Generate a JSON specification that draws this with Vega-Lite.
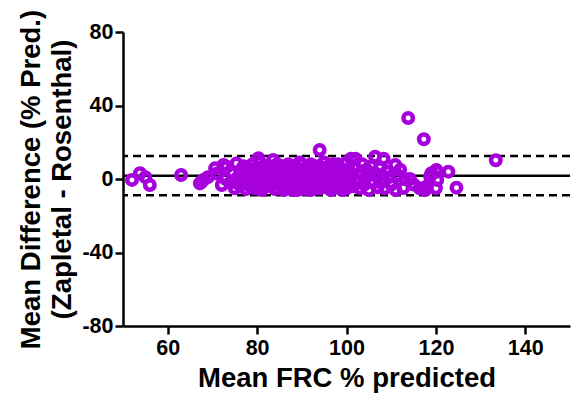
{
  "$schema": "https://vega.github.io/schema/vega-lite/v6.json",
  "width": 447,
  "height": 294,
  "autosize": "none",
  "padding": {"left": 123, "top": 32, "right": 3, "bottom": 78},
  "config": {
    "view": {"stroke": null},
    "font": "Liberation Sans",
    "axis": {
      "domainColor": "black", "domainWidth": 2.5, "tickColor": "black", "tickWidth": 2.5,
      "tickSize": 8, "grid": false, "labelFont": "Liberation Sans", "labelFontWeight": "bold",
      "labelFontSize": 21.5, "labelColor": "black", "titleFont": "Liberation Sans",
      "titleFontWeight": "bold", "titleFontSize": 27.5, "titleColor": "black"
    }
  },
  "datasets": {
    "pts": [
      {"m":52,"d":-0.5},{"m":53.8,"d":3.1},{"m":55,"d":1},{"m":56,"d":-3.3},{"m":63,"d":2.2},
      {"m":67.2,"d":-2.4},{"m":67.6,"d":-1.5},{"m":68,"d":-0.5},{"m":69,"d":1},{"m":70.6,"d":5.8},
      {"m":71,"d":3},{"m":72.1,"d":-3.3},{"m":72.5,"d":7.6},{"m":73,"d":0},{"m":73.2,"d":6.7},
      {"m":74,"d":-2},{"m":74.5,"d":3},{"m":75,"d":-5},{"m":75.4,"d":8.5},{"m":75.8,"d":1},
      {"m":76,"d":-3},{"m":76.5,"d":5},{"m":77,"d":-1},{"m":77,"d":7},{"m":77.5,"d":-5.5},
      {"m":78,"d":2},{"m":78,"d":-3},{"m":78.5,"d":4},{"m":79,"d":-1},{"m":79,"d":8},
      {"m":79.5,"d":-5},{"m":80,"d":1},{"m":80,"d":5},{"m":80.3,"d":11.3},{"m":80.6,"d":9},
      {"m":80.8,"d":-2},{"m":81,"d":-6},{"m":81.5,"d":3},{"m":82,"d":7},{"m":82,"d":-4},
      {"m":82.5,"d":0},{"m":83,"d":5},{"m":83.6,"d":10.3},{"m":83,"d":-2},{"m":84,"d":2},
      {"m":84,"d":-5.5},{"m":84.5,"d":8},{"m":85,"d":-1},{"m":85,"d":4},{"m":85.5,"d":6},
      {"m":85.5,"d":-4},{"m":86,"d":1},{"m":86,"d":-6},{"m":86.5,"d":3},{"m":87,"d":8},
      {"m":87,"d":-2},{"m":87.5,"d":5},{"m":88,"d":0},{"m":88,"d":-4.5},{"m":88.5,"d":7},
      {"m":89,"d":2},{"m":89,"d":-3},{"m":89.5,"d":9},{"m":90,"d":-1},{"m":90,"d":4},
      {"m":90.5,"d":-5.5},{"m":91,"d":6},{"m":91,"d":1},{"m":91.5,"d":-3},{"m":92,"d":3},
      {"m":92,"d":8},{"m":92.5,"d":-1},{"m":93,"d":5},{"m":93,"d":-5},{"m":93.5,"d":1},
      {"m":94,"d":15.8},{"m":94,"d":7},{"m":94.5,"d":-2},{"m":95,"d":3},{"m":95,"d":9},
      {"m":95.5,"d":-4.5},{"m":96,"d":0},{"m":96,"d":5},{"m":96.5,"d":-6},{"m":97,"d":2},
      {"m":97,"d":8},{"m":97.5,"d":-2},{"m":98,"d":4},{"m":98,"d":-4},{"m":98.5,"d":6},
      {"m":99,"d":0},{"m":99,"d":-6},{"m":99.5,"d":3},{"m":100,"d":9},{"m":100,"d":-2},
      {"m":100.5,"d":5},{"m":101,"d":11},{"m":101,"d":1},{"m":101.5,"d":-4},{"m":102,"d":11},
      {"m":102,"d":6},{"m":102.5,"d":-1},{"m":103,"d":3},{"m":103,"d":-5},{"m":103.5,"d":8},
      {"m":104,"d":0},{"m":104,"d":-3},{"m":104.5,"d":5},{"m":105,"d":-6},{"m":105,"d":2},
      {"m":105.5,"d":7},{"m":106,"d":-2},{"m":106.4,"d":12.1},{"m":106.5,"d":3},{"m":107,"d":-4.5},
      {"m":107,"d":1},{"m":107.5,"d":6},{"m":108.3,"d":11},{"m":108,"d":-1},{"m":108.5,"d":-5},
      {"m":109,"d":4},{"m":109.5,"d":1},{"m":110,"d":-3},{"m":110.9,"d":7.6},{"m":111,"d":-6},
      {"m":111.5,"d":2},{"m":112,"d":5},{"m":112.7,"d":-4.9},{"m":113,"d":0},{"m":114.2,"d":0},
      {"m":113.8,"d":33.2},{"m":115,"d":-3},{"m":116.4,"d":-5},{"m":117.3,"d":21.6},{"m":117.6,"d":-6},
      {"m":118,"d":-4},{"m":118.7,"d":1.3},{"m":119,"d":3.1},{"m":120,"d":-5},{"m":120.1,"d":4.9},
      {"m":120.3,"d":-0.5},{"m":120.2,"d":4},{"m":122.8,"d":4},{"m":124.6,"d":-4.7},{"m":133.4,"d":10.2},
      {"m":76,"d":2},{"m":78,"d":6},{"m":79,"d":-4},{"m":81,"d":5},{"m":82,"d":-1},
      {"m":83,"d":1},{"m":84,"d":-3},{"m":85,"d":2},{"m":86,"d":7},{"m":87,"d":-5},
      {"m":88,"d":3},{"m":89,"d":6},{"m":90,"d":-3},{"m":90,"d":8},{"m":91,"d":-5},
      {"m":92,"d":0},{"m":93,"d":-3},{"m":94,"d":2},{"m":95,"d":-1},{"m":96,"d":7},
      {"m":97,"d":-4},{"m":98,"d":1},{"m":99,"d":5},{"m":100,"d":2},{"m":79,"d":3},
      {"m":81,"d":-3},{"m":83,"d":7},{"m":87,"d":1},{"m":89,"d":-6},{"m":91,"d":3},
      {"m":93,"d":7},{"m":95,"d":5},{"m":97,"d":6},{"m":99,"d":-2},{"m":77,"d":4},
      {"m":80,"d":-5},{"m":84,"d":5},{"m":86,"d":-2},{"m":88,"d":-6},{"m":92,"d":-6},
      {"m":94,"d":-5},{"m":96,"d":-3},{"m":98,"d":8},{"m":100,"d":-5}
    ],
    "lines": [
      {"v":1.8,"kind":"mean"},{"v":12.5,"kind":"upper"},{"v":-8.9,"kind":"lower"}
    ]
  },
  "layer": [
    {
      "data": {"name": "lines"},
      "transform": [{"filter": "datum.kind == 'mean'"}],
      "mark": {"type": "rule", "color": "black", "strokeWidth": 2.5},
      "encoding": {"y": {"field": "v", "type": "quantitative", "scale": {"domain": [-80, 80]}}}
    },
    {
      "data": {"name": "lines"},
      "transform": [{"filter": "datum.kind != 'mean'"}],
      "mark": {"type": "rule", "color": "black", "strokeWidth": 2.5, "strokeDash": [8, 5]},
      "encoding": {"y": {"field": "v", "type": "quantitative"}}
    },
    {
      "data": {"name": "pts"},
      "mark": {"type": "point", "shape": "circle", "filled": false, "stroke": "#A600DD", "strokeWidth": 4.5, "size": 90, "opacity": 1},
      "encoding": {
        "x": {"field": "m", "type": "quantitative", "scale": {"domain": [50, 150], "nice": false, "zero": false},
          "axis": {"values": [60, 80, 100, 120, 140], "title": "Mean FRC % predicted", "labelPadding": 3, "titlePadding": 6}},
        "y": {"field": "d", "type": "quantitative", "scale": {"domain": [-80, 80], "nice": false},
          "axis": {"values": [-80, -40, 0, 40, 80], "labelExpr": "datum.value < 0 ? '-' + abs(datum.value) : '' + datum.value",
            "title": ["Mean Difference (% Pred.)", "(Zapletal - Rosenthal)"], "labelPadding": 2, "titlePadding": 5, "titleLineHeight": 31}}
      }
    }
  ]
}
